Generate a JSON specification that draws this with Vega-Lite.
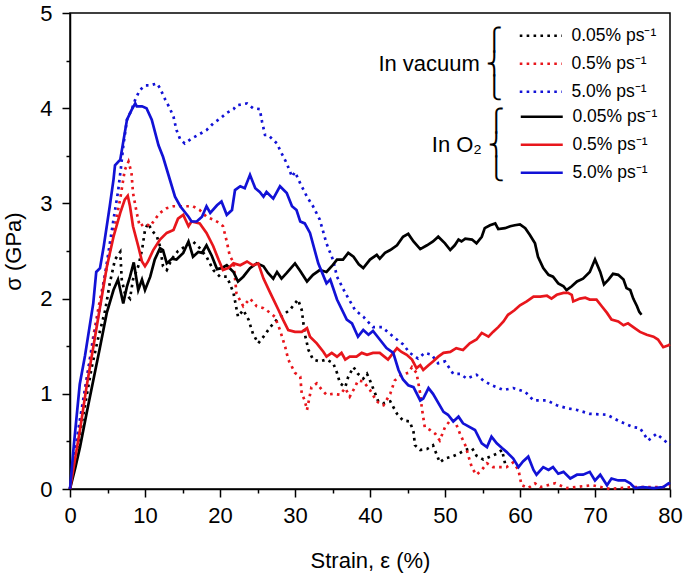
{
  "$schema": "https://vega.github.io/schema/vega-lite/v6.json",
  "width": 600,
  "height": 476,
  "autosize": {"type": "none"},
  "padding": {"left": 70, "top": 13, "right": 15, "bottom": 86},
  "config": {
    "font": "Liberation Sans",
    "view": {"stroke": "#000000", "strokeWidth": 1.5},
    "axis": {"grid": false, "domainColor": "#000000", "domainWidth": 1.5, "tickColor": "#000000", "tickWidth": 1.5, "labelColor": "#000000", "titleColor": "#000000", "labelFontSize": 22, "titleFontSize": 22, "titleFontWeight": "normal"}
  },
  "data": {"values": [
    {"series":"vacuum 0.05","strain":0,"stress":0},{"series":"vacuum 0.05","strain":0.9,"stress":0.4},{"series":"vacuum 0.05","strain":1.8,"stress":0.79},{"series":"vacuum 0.05","strain":2.9,"stress":1.28},{"series":"vacuum 0.05","strain":3.8,"stress":1.6},{"series":"vacuum 0.05","strain":4.7,"stress":1.88},{"series":"vacuum 0.05","strain":5.3,"stress":2.16},{"series":"vacuum 0.05","strain":6,"stress":2.41},{"series":"vacuum 0.05","strain":6.7,"stress":2.49},{"series":"vacuum 0.05","strain":6.9,"stress":2.2},{"series":"vacuum 0.05","strain":7.3,"stress":2.06},{"series":"vacuum 0.05","strain":8,"stress":2.0},{"series":"vacuum 0.05","strain":8.4,"stress":2.2},{"series":"vacuum 0.05","strain":9.1,"stress":2.34},{"series":"vacuum 0.05","strain":9.6,"stress":2.51},{"series":"vacuum 0.05","strain":10,"stress":2.72},{"series":"vacuum 0.05","strain":10.4,"stress":2.79},{"series":"vacuum 0.05","strain":10.9,"stress":2.72},{"series":"vacuum 0.05","strain":11.6,"stress":2.65},{"series":"vacuum 0.05","strain":12,"stress":2.55},{"series":"vacuum 0.05","strain":12.4,"stress":2.34},{"series":"vacuum 0.05","strain":12.9,"stress":2.3},{"series":"vacuum 0.05","strain":13.6,"stress":2.42},{"series":"vacuum 0.05","strain":14.4,"stress":2.5},{"series":"vacuum 0.05","strain":15.6,"stress":2.56},{"series":"vacuum 0.05","strain":16.4,"stress":2.6},{"series":"vacuum 0.05","strain":17.3,"stress":2.53},{"series":"vacuum 0.05","strain":18.2,"stress":2.44},{"series":"vacuum 0.05","strain":19.1,"stress":2.3},{"series":"vacuum 0.05","strain":20,"stress":2.23},{"series":"vacuum 0.05","strain":20.9,"stress":2.23},{"series":"vacuum 0.05","strain":21.3,"stress":2.16},{"series":"vacuum 0.05","strain":21.8,"stress":2.06},{"series":"vacuum 0.05","strain":22.4,"stress":1.81},{"series":"vacuum 0.05","strain":23.1,"stress":1.88},{"series":"vacuum 0.05","strain":23.8,"stress":1.78},{"series":"vacuum 0.05","strain":24.4,"stress":1.63},{"series":"vacuum 0.05","strain":25.1,"stress":1.53},{"series":"vacuum 0.05","strain":25.8,"stress":1.6},{"series":"vacuum 0.05","strain":26.7,"stress":1.7},{"series":"vacuum 0.05","strain":27.6,"stress":1.78},{"series":"vacuum 0.05","strain":28.4,"stress":1.83},{"series":"vacuum 0.05","strain":29.3,"stress":1.88},{"series":"vacuum 0.05","strain":30.4,"stress":1.99},{"series":"vacuum 0.05","strain":30.9,"stress":1.88},{"series":"vacuum 0.05","strain":31.3,"stress":1.63},{"series":"vacuum 0.05","strain":31.8,"stress":1.46},{"series":"vacuum 0.05","strain":32.4,"stress":1.36},{"series":"vacuum 0.05","strain":33.3,"stress":1.34},{"series":"vacuum 0.05","strain":34.2,"stress":1.36},{"series":"vacuum 0.05","strain":35.1,"stress":1.32},{"series":"vacuum 0.05","strain":35.6,"stress":1.22},{"series":"vacuum 0.05","strain":36,"stress":1.11},{"series":"vacuum 0.05","strain":36.7,"stress":1.07},{"series":"vacuum 0.05","strain":37.1,"stress":1.18},{"series":"vacuum 0.05","strain":37.8,"stress":1.28},{"series":"vacuum 0.05","strain":38.4,"stress":1.21},{"series":"vacuum 0.05","strain":39.1,"stress":1.16},{"series":"vacuum 0.05","strain":39.6,"stress":1.21},{"series":"vacuum 0.05","strain":40,"stress":1.14},{"series":"vacuum 0.05","strain":40.7,"stress":1.0},{"series":"vacuum 0.05","strain":41.1,"stress":0.92},{"series":"vacuum 0.05","strain":41.8,"stress":0.9},{"series":"vacuum 0.05","strain":42.7,"stress":0.92},{"series":"vacuum 0.05","strain":43.6,"stress":0.79},{"series":"vacuum 0.05","strain":44.4,"stress":0.72},{"series":"vacuum 0.05","strain":45.3,"stress":0.71},{"series":"vacuum 0.05","strain":45.8,"stress":0.6},{"series":"vacuum 0.05","strain":46,"stress":0.46},{"series":"vacuum 0.05","strain":46.7,"stress":0.41},{"series":"vacuum 0.05","strain":47.6,"stress":0.42},{"series":"vacuum 0.05","strain":48.4,"stress":0.46},{"series":"vacuum 0.05","strain":48.9,"stress":0.36},{"series":"vacuum 0.05","strain":49.3,"stress":0.28},{"series":"vacuum 0.05","strain":50,"stress":0.32},{"series":"vacuum 0.05","strain":50.9,"stress":0.34},{"series":"vacuum 0.05","strain":51.8,"stress":0.37},{"series":"vacuum 0.05","strain":52.7,"stress":0.41},{"series":"vacuum 0.05","strain":53.6,"stress":0.43},{"series":"vacuum 0.05","strain":54.2,"stress":0.35},{"series":"vacuum 0.05","strain":55.1,"stress":0.31},{"series":"vacuum 0.05","strain":56,"stress":0.34},{"series":"vacuum 0.05","strain":56.9,"stress":0.37},{"series":"vacuum 0.05","strain":57.6,"stress":0.41},{"series":"vacuum 0.05","strain":58,"stress":0.27},
    {"series":"vacuum 0.5","strain":0,"stress":0},{"series":"vacuum 0.5","strain":1.3,"stress":0.69},{"series":"vacuum 0.5","strain":2.2,"stress":1.14},{"series":"vacuum 0.5","strain":3.1,"stress":1.6},{"series":"vacuum 0.5","strain":4,"stress":1.99},{"series":"vacuum 0.5","strain":4.9,"stress":2.33},{"series":"vacuum 0.5","strain":5.8,"stress":2.69},{"series":"vacuum 0.5","strain":6.7,"stress":3.05},{"series":"vacuum 0.5","strain":7.3,"stress":3.35},{"series":"vacuum 0.5","strain":7.8,"stress":3.44},{"series":"vacuum 0.5","strain":8.2,"stress":3.32},{"series":"vacuum 0.5","strain":8.4,"stress":3.11},{"series":"vacuum 0.5","strain":8.9,"stress":2.9},{"series":"vacuum 0.5","strain":9.3,"stress":2.76},{"series":"vacuum 0.5","strain":10,"stress":2.79},{"series":"vacuum 0.5","strain":10.7,"stress":2.76},{"series":"vacuum 0.5","strain":11.3,"stress":2.83},{"series":"vacuum 0.5","strain":12,"stress":2.9},{"series":"vacuum 0.5","strain":12.9,"stress":2.95},{"series":"vacuum 0.5","strain":13.8,"stress":2.97},{"series":"vacuum 0.5","strain":15.1,"stress":2.97},{"series":"vacuum 0.5","strain":16.4,"stress":2.97},{"series":"vacuum 0.5","strain":17.3,"stress":2.93},{"series":"vacuum 0.5","strain":18.2,"stress":2.86},{"series":"vacuum 0.5","strain":19.1,"stress":2.83},{"series":"vacuum 0.5","strain":20,"stress":2.79},{"series":"vacuum 0.5","strain":20.4,"stress":2.76},{"series":"vacuum 0.5","strain":20.9,"stress":2.6},{"series":"vacuum 0.5","strain":21.3,"stress":2.45},{"series":"vacuum 0.5","strain":21.8,"stress":2.38},{"series":"vacuum 0.5","strain":22.2,"stress":2.05},{"series":"vacuum 0.5","strain":23.1,"stress":1.92},{"series":"vacuum 0.5","strain":24,"stress":2.0},{"series":"vacuum 0.5","strain":24.9,"stress":1.92},{"series":"vacuum 0.5","strain":25.8,"stress":1.9},{"series":"vacuum 0.5","strain":26.7,"stress":1.85},{"series":"vacuum 0.5","strain":27.3,"stress":1.81},{"series":"vacuum 0.5","strain":28,"stress":1.67},{"series":"vacuum 0.5","strain":28.7,"stress":1.49},{"series":"vacuum 0.5","strain":29.1,"stress":1.36},{"series":"vacuum 0.5","strain":30,"stress":1.22},{"series":"vacuum 0.5","strain":30.7,"stress":1.18},{"series":"vacuum 0.5","strain":30.9,"stress":1.0},{"series":"vacuum 0.5","strain":31.3,"stress":0.93},{"series":"vacuum 0.5","strain":31.6,"stress":0.83},{"series":"vacuum 0.5","strain":32.2,"stress":1.07},{"series":"vacuum 0.5","strain":32.9,"stress":1.11},{"series":"vacuum 0.5","strain":33.6,"stress":1.04},{"series":"vacuum 0.5","strain":34.2,"stress":0.99},{"series":"vacuum 0.5","strain":35.1,"stress":1.0},{"series":"vacuum 0.5","strain":36,"stress":0.99},{"series":"vacuum 0.5","strain":36.7,"stress":1.06},{"series":"vacuum 0.5","strain":37.3,"stress":0.97},{"series":"vacuum 0.5","strain":38,"stress":1.07},{"series":"vacuum 0.5","strain":38.4,"stress":1.14},{"series":"vacuum 0.5","strain":39.1,"stress":1.13},{"series":"vacuum 0.5","strain":40,"stress":1.04},{"series":"vacuum 0.5","strain":40.9,"stress":0.92},{"series":"vacuum 0.5","strain":41.8,"stress":0.88},{"series":"vacuum 0.5","strain":42.7,"stress":1.0},{"series":"vacuum 0.5","strain":43.3,"stress":1.14},{"series":"vacuum 0.5","strain":44.2,"stress":1.2},{"series":"vacuum 0.5","strain":45.1,"stress":1.22},{"series":"vacuum 0.5","strain":45.6,"stress":1.28},{"series":"vacuum 0.5","strain":46.2,"stress":1.22},{"series":"vacuum 0.5","strain":46.7,"stress":1.0},{"series":"vacuum 0.5","strain":46.9,"stress":0.86},{"series":"vacuum 0.5","strain":47.3,"stress":0.65},{"series":"vacuum 0.5","strain":48,"stress":0.62},{"series":"vacuum 0.5","strain":48.7,"stress":0.58},{"series":"vacuum 0.5","strain":49.3,"stress":0.51},{"series":"vacuum 0.5","strain":50,"stress":0.65},{"series":"vacuum 0.5","strain":50.7,"stress":0.72},{"series":"vacuum 0.5","strain":51.3,"stress":0.72},{"series":"vacuum 0.5","strain":52,"stress":0.58},{"series":"vacuum 0.5","strain":52.7,"stress":0.46},{"series":"vacuum 0.5","strain":53.6,"stress":0.22},{"series":"vacuum 0.5","strain":54.2,"stress":0.15},{"series":"vacuum 0.5","strain":54.9,"stress":0.2},{"series":"vacuum 0.5","strain":55.6,"stress":0.27},{"series":"vacuum 0.5","strain":56.4,"stress":0.23},{"series":"vacuum 0.5","strain":57.3,"stress":0.23},{"series":"vacuum 0.5","strain":58.2,"stress":0.23},{"series":"vacuum 0.5","strain":59.1,"stress":0.28},{"series":"vacuum 0.5","strain":59.8,"stress":0.2},{"series":"vacuum 0.5","strain":60.2,"stress":0.04},{"series":"vacuum 0.5","strain":61.1,"stress":0.01},{"series":"vacuum 0.5","strain":62,"stress":0.06},{"series":"vacuum 0.5","strain":62.7,"stress":0.02},{"series":"vacuum 0.5","strain":64.7,"stress":0.06},{"series":"vacuum 0.5","strain":66.2,"stress":0.01},{"series":"vacuum 0.5","strain":69.6,"stress":0.04},{"series":"vacuum 0.5","strain":72,"stress":0.0},{"series":"vacuum 0.5","strain":75,"stress":0.02},{"series":"vacuum 0.5","strain":79.1,"stress":0.02},{"series":"vacuum 0.5","strain":80,"stress":0.04},
    {"series":"vacuum 5.0","strain":0,"stress":0},{"series":"vacuum 5.0","strain":0.6,"stress":0.35},{"series":"vacuum 5.0","strain":1.3,"stress":0.72},{"series":"vacuum 5.0","strain":2.2,"stress":1.14},{"series":"vacuum 5.0","strain":3.1,"stress":1.56},{"series":"vacuum 5.0","strain":4,"stress":1.91},{"series":"vacuum 5.0","strain":4.9,"stress":2.37},{"series":"vacuum 5.0","strain":5.8,"stress":2.83},{"series":"vacuum 5.0","strain":6.4,"stress":3.12},{"series":"vacuum 5.0","strain":6.8,"stress":3.38},{"series":"vacuum 5.0","strain":7.1,"stress":3.6},{"series":"vacuum 5.0","strain":7.6,"stress":3.88},{"series":"vacuum 5.0","strain":8.2,"stress":3.98},{"series":"vacuum 5.0","strain":8.7,"stress":4.09},{"series":"vacuum 5.0","strain":9.3,"stress":4.19},{"series":"vacuum 5.0","strain":10,"stress":4.24},{"series":"vacuum 5.0","strain":10.7,"stress":4.24},{"series":"vacuum 5.0","strain":11.6,"stress":4.26},{"series":"vacuum 5.0","strain":12,"stress":4.21},{"series":"vacuum 5.0","strain":12.7,"stress":4.09},{"series":"vacuum 5.0","strain":13.3,"stress":4.0},{"series":"vacuum 5.0","strain":13.8,"stress":3.91},{"series":"vacuum 5.0","strain":14.2,"stress":3.77},{"series":"vacuum 5.0","strain":14.7,"stress":3.67},{"series":"vacuum 5.0","strain":15.3,"stress":3.63},{"series":"vacuum 5.0","strain":16.2,"stress":3.68},{"series":"vacuum 5.0","strain":17.1,"stress":3.72},{"series":"vacuum 5.0","strain":18.2,"stress":3.77},{"series":"vacuum 5.0","strain":19.1,"stress":3.84},{"series":"vacuum 5.0","strain":20,"stress":3.89},{"series":"vacuum 5.0","strain":20.9,"stress":3.95},{"series":"vacuum 5.0","strain":21.8,"stress":3.99},{"series":"vacuum 5.0","strain":22.2,"stress":4.03},{"series":"vacuum 5.0","strain":23.6,"stress":4.05},{"series":"vacuum 5.0","strain":24.4,"stress":4.0},{"series":"vacuum 5.0","strain":25.3,"stress":3.99},{"series":"vacuum 5.0","strain":25.6,"stress":3.86},{"series":"vacuum 5.0","strain":26,"stress":3.72},{"series":"vacuum 5.0","strain":26.4,"stress":3.72},{"series":"vacuum 5.0","strain":27.6,"stress":3.63},{"series":"vacuum 5.0","strain":28,"stress":3.56},{"series":"vacuum 5.0","strain":28.9,"stress":3.42},{"series":"vacuum 5.0","strain":29.6,"stress":3.28},{"series":"vacuum 5.0","strain":30,"stress":3.33},{"series":"vacuum 5.0","strain":30.7,"stress":3.21},{"series":"vacuum 5.0","strain":31.6,"stress":3.07},{"series":"vacuum 5.0","strain":32.4,"stress":2.97},{"series":"vacuum 5.0","strain":33.3,"stress":2.83},{"series":"vacuum 5.0","strain":34.2,"stress":2.58},{"series":"vacuum 5.0","strain":35.1,"stress":2.4},{"series":"vacuum 5.0","strain":35.6,"stress":2.23},{"series":"vacuum 5.0","strain":36.7,"stress":2.06},{"series":"vacuum 5.0","strain":38,"stress":1.88},{"series":"vacuum 5.0","strain":39.1,"stress":1.81},{"series":"vacuum 5.0","strain":40.4,"stress":1.7},{"series":"vacuum 5.0","strain":41.6,"stress":1.7},{"series":"vacuum 5.0","strain":43.1,"stress":1.6},{"series":"vacuum 5.0","strain":44.4,"stress":1.52},{"series":"vacuum 5.0","strain":45.3,"stress":1.43},{"series":"vacuum 5.0","strain":46.4,"stress":1.37},{"series":"vacuum 5.0","strain":47.3,"stress":1.43},{"series":"vacuum 5.0","strain":48.2,"stress":1.41},{"series":"vacuum 5.0","strain":49.1,"stress":1.32},{"series":"vacuum 5.0","strain":50,"stress":1.34},{"series":"vacuum 5.0","strain":51.1,"stress":1.21},{"series":"vacuum 5.0","strain":52,"stress":1.21},{"series":"vacuum 5.0","strain":52.9,"stress":1.16},{"series":"vacuum 5.0","strain":54.2,"stress":1.2},{"series":"vacuum 5.0","strain":55.1,"stress":1.14},{"series":"vacuum 5.0","strain":56.2,"stress":1.09},{"series":"vacuum 5.0","strain":57.8,"stress":1.04},{"series":"vacuum 5.0","strain":59.1,"stress":1.06},{"series":"vacuum 5.0","strain":60.7,"stress":1.02},{"series":"vacuum 5.0","strain":61.8,"stress":0.93},{"series":"vacuum 5.0","strain":63.6,"stress":0.93},{"series":"vacuum 5.0","strain":64.9,"stress":0.88},{"series":"vacuum 5.0","strain":66.2,"stress":0.85},{"series":"vacuum 5.0","strain":67.6,"stress":0.83},{"series":"vacuum 5.0","strain":69.3,"stress":0.79},{"series":"vacuum 5.0","strain":71.6,"stress":0.78},{"series":"vacuum 5.0","strain":73.3,"stress":0.71},{"series":"vacuum 5.0","strain":75.1,"stress":0.65},{"series":"vacuum 5.0","strain":76,"stress":0.64},{"series":"vacuum 5.0","strain":77.1,"stress":0.51},{"series":"vacuum 5.0","strain":78.2,"stress":0.58},{"series":"vacuum 5.0","strain":80,"stress":0.46},
    {"series":"O2 0.05","strain":0,"stress":0},{"series":"O2 0.05","strain":0.7,"stress":0.22},{"series":"O2 0.05","strain":1.33,"stress":0.44},{"series":"O2 0.05","strain":2.2,"stress":0.79},{"series":"O2 0.05","strain":3.1,"stress":1.14},{"series":"O2 0.05","strain":4,"stress":1.49},{"series":"O2 0.05","strain":4.9,"stress":1.85},{"series":"O2 0.05","strain":5.8,"stress":2.09},{"series":"O2 0.05","strain":6.4,"stress":2.2},{"series":"O2 0.05","strain":7.1,"stress":1.95},{"series":"O2 0.05","strain":7.6,"stress":2.13},{"series":"O2 0.05","strain":8,"stress":2.23},{"series":"O2 0.05","strain":8.5,"stress":2.38},{"series":"O2 0.05","strain":9.1,"stress":2.09},{"series":"O2 0.05","strain":9.6,"stress":2.2},{"series":"O2 0.05","strain":10,"stress":2.09},{"series":"O2 0.05","strain":10.7,"stress":2.23},{"series":"O2 0.05","strain":11.3,"stress":2.41},{"series":"O2 0.05","strain":12,"stress":2.53},{"series":"O2 0.05","strain":12.4,"stress":2.51},{"series":"O2 0.05","strain":12.9,"stress":2.37},{"series":"O2 0.05","strain":13.6,"stress":2.42},{"series":"O2 0.05","strain":14.2,"stress":2.41},{"series":"O2 0.05","strain":15.1,"stress":2.48},{"series":"O2 0.05","strain":15.8,"stress":2.6},{"series":"O2 0.05","strain":16.4,"stress":2.44},{"series":"O2 0.05","strain":17.1,"stress":2.49},{"series":"O2 0.05","strain":17.6,"stress":2.48},{"series":"O2 0.05","strain":18.2,"stress":2.56},{"series":"O2 0.05","strain":18.9,"stress":2.45},{"series":"O2 0.05","strain":19.6,"stress":2.31},{"series":"O2 0.05","strain":20.2,"stress":2.32},{"series":"O2 0.05","strain":20.9,"stress":2.35},{"series":"O2 0.05","strain":21.8,"stress":2.28},{"series":"O2 0.05","strain":22.4,"stress":2.18},{"series":"O2 0.05","strain":23.1,"stress":2.23},{"series":"O2 0.05","strain":24,"stress":2.32},{"series":"O2 0.05","strain":24.9,"stress":2.37},{"series":"O2 0.05","strain":25.8,"stress":2.34},{"series":"O2 0.05","strain":26.4,"stress":2.27},{"series":"O2 0.05","strain":27.1,"stress":2.21},{"series":"O2 0.05","strain":27.6,"stress":2.28},{"series":"O2 0.05","strain":28.2,"stress":2.21},{"series":"O2 0.05","strain":28.9,"stress":2.27},{"series":"O2 0.05","strain":30,"stress":2.37},{"series":"O2 0.05","strain":30.7,"stress":2.29},{"series":"O2 0.05","strain":31.6,"stress":2.18},{"series":"O2 0.05","strain":32.4,"stress":2.25},{"series":"O2 0.05","strain":33.3,"stress":2.3},{"series":"O2 0.05","strain":34.2,"stress":2.28},{"series":"O2 0.05","strain":34.9,"stress":2.34},{"series":"O2 0.05","strain":35.6,"stress":2.41},{"series":"O2 0.05","strain":36.4,"stress":2.41},{"series":"O2 0.05","strain":37.1,"stress":2.48},{"series":"O2 0.05","strain":37.8,"stress":2.44},{"series":"O2 0.05","strain":38.5,"stress":2.36},{"series":"O2 0.05","strain":39.1,"stress":2.32},{"series":"O2 0.05","strain":40,"stress":2.41},{"series":"O2 0.05","strain":40.9,"stress":2.46},{"series":"O2 0.05","strain":41.3,"stress":2.42},{"series":"O2 0.05","strain":42,"stress":2.48},{"series":"O2 0.05","strain":42.7,"stress":2.51},{"series":"O2 0.05","strain":43.6,"stress":2.56},{"series":"O2 0.05","strain":44.4,"stress":2.65},{"series":"O2 0.05","strain":45.1,"stress":2.68},{"series":"O2 0.05","strain":45.8,"stress":2.6},{"series":"O2 0.05","strain":46.7,"stress":2.52},{"series":"O2 0.05","strain":47.6,"stress":2.56},{"series":"O2 0.05","strain":48.4,"stress":2.6},{"series":"O2 0.05","strain":49.1,"stress":2.65},{"series":"O2 0.05","strain":50,"stress":2.58},{"series":"O2 0.05","strain":50.7,"stress":2.51},{"series":"O2 0.05","strain":51.3,"stress":2.56},{"series":"O2 0.05","strain":51.8,"stress":2.62},{"series":"O2 0.05","strain":52.2,"stress":2.6},{"series":"O2 0.05","strain":52.7,"stress":2.63},{"series":"O2 0.05","strain":53.6,"stress":2.62},{"series":"O2 0.05","strain":54.2,"stress":2.58},{"series":"O2 0.05","strain":54.9,"stress":2.65},{"series":"O2 0.05","strain":55.3,"stress":2.74},{"series":"O2 0.05","strain":56,"stress":2.77},{"series":"O2 0.05","strain":56.7,"stress":2.79},{"series":"O2 0.05","strain":57.1,"stress":2.73},{"series":"O2 0.05","strain":58,"stress":2.74},{"series":"O2 0.05","strain":58.7,"stress":2.76},{"series":"O2 0.05","strain":59.3,"stress":2.77},{"series":"O2 0.05","strain":60,"stress":2.78},{"series":"O2 0.05","strain":60.7,"stress":2.74},{"series":"O2 0.05","strain":61.3,"stress":2.67},{"series":"O2 0.05","strain":62,"stress":2.58},{"series":"O2 0.05","strain":62.4,"stress":2.44},{"series":"O2 0.05","strain":63.1,"stress":2.32},{"series":"O2 0.05","strain":63.8,"stress":2.25},{"series":"O2 0.05","strain":64.4,"stress":2.23},{"series":"O2 0.05","strain":65.1,"stress":2.16},{"series":"O2 0.05","strain":65.8,"stress":2.13},{"series":"O2 0.05","strain":66.2,"stress":2.09},{"series":"O2 0.05","strain":66.9,"stress":2.13},{"series":"O2 0.05","strain":67.6,"stress":2.18},{"series":"O2 0.05","strain":68.4,"stress":2.21},{"series":"O2 0.05","strain":69.3,"stress":2.28},{"series":"O2 0.05","strain":70,"stress":2.41},{"series":"O2 0.05","strain":70.7,"stress":2.28},{"series":"O2 0.05","strain":71.2,"stress":2.15},{"series":"O2 0.05","strain":71.8,"stress":2.2},{"series":"O2 0.05","strain":72.4,"stress":2.26},{"series":"O2 0.05","strain":73.1,"stress":2.25},{"series":"O2 0.05","strain":73.8,"stress":2.2},{"series":"O2 0.05","strain":74.2,"stress":2.11},{"series":"O2 0.05","strain":74.7,"stress":2.09},{"series":"O2 0.05","strain":75.1,"stress":2.0},{"series":"O2 0.05","strain":75.6,"stress":1.92},{"series":"O2 0.05","strain":75.9,"stress":1.86},{"series":"O2 0.05","strain":76.2,"stress":1.83},
    {"series":"O2 0.5","strain":0,"stress":0},{"series":"O2 0.5","strain":0.6,"stress":0.28},{"series":"O2 0.5","strain":1.33,"stress":0.62},{"series":"O2 0.5","strain":2.2,"stress":1.07},{"series":"O2 0.5","strain":3.1,"stress":1.49},{"series":"O2 0.5","strain":4,"stress":1.91},{"series":"O2 0.5","strain":4.9,"stress":2.33},{"series":"O2 0.5","strain":5.8,"stress":2.65},{"series":"O2 0.5","strain":6.7,"stress":2.9},{"series":"O2 0.5","strain":7.3,"stress":3.04},{"series":"O2 0.5","strain":7.7,"stress":3.08},{"series":"O2 0.5","strain":8,"stress":2.97},{"series":"O2 0.5","strain":8.4,"stress":2.76},{"series":"O2 0.5","strain":9.1,"stress":2.55},{"series":"O2 0.5","strain":9.6,"stress":2.39},{"series":"O2 0.5","strain":10,"stress":2.34},{"series":"O2 0.5","strain":10.4,"stress":2.39},{"series":"O2 0.5","strain":11.1,"stress":2.51},{"series":"O2 0.5","strain":12,"stress":2.62},{"series":"O2 0.5","strain":12.9,"stress":2.69},{"series":"O2 0.5","strain":13.8,"stress":2.72},{"series":"O2 0.5","strain":14.4,"stress":2.84},{"series":"O2 0.5","strain":15.1,"stress":2.88},{"series":"O2 0.5","strain":15.8,"stress":2.76},{"series":"O2 0.5","strain":16.2,"stress":2.81},{"series":"O2 0.5","strain":17.3,"stress":2.79},{"series":"O2 0.5","strain":18.2,"stress":2.69},{"series":"O2 0.5","strain":19.1,"stress":2.55},{"series":"O2 0.5","strain":19.8,"stress":2.41},{"series":"O2 0.5","strain":20.4,"stress":2.3},{"series":"O2 0.5","strain":21.1,"stress":2.32},{"series":"O2 0.5","strain":21.8,"stress":2.37},{"series":"O2 0.5","strain":22.7,"stress":2.35},{"series":"O2 0.5","strain":23.6,"stress":2.39},{"series":"O2 0.5","strain":24.4,"stress":2.35},{"series":"O2 0.5","strain":25.1,"stress":2.37},{"series":"O2 0.5","strain":25.8,"stress":2.21},{"series":"O2 0.5","strain":26.7,"stress":2.06},{"series":"O2 0.5","strain":27.8,"stress":1.88},{"series":"O2 0.5","strain":28.4,"stress":1.78},{"series":"O2 0.5","strain":29.1,"stress":1.67},{"series":"O2 0.5","strain":30,"stress":1.65},{"series":"O2 0.5","strain":30.9,"stress":1.65},{"series":"O2 0.5","strain":31.6,"stress":1.69},{"series":"O2 0.5","strain":32,"stress":1.6},{"series":"O2 0.5","strain":32.9,"stress":1.53},{"series":"O2 0.5","strain":33.8,"stress":1.44},{"series":"O2 0.5","strain":34.2,"stress":1.39},{"series":"O2 0.5","strain":34.9,"stress":1.43},{"series":"O2 0.5","strain":35.6,"stress":1.39},{"series":"O2 0.5","strain":36.2,"stress":1.43},{"series":"O2 0.5","strain":36.7,"stress":1.36},{"series":"O2 0.5","strain":37.3,"stress":1.39},{"series":"O2 0.5","strain":38.2,"stress":1.39},{"series":"O2 0.5","strain":38.9,"stress":1.43},{"series":"O2 0.5","strain":39.6,"stress":1.41},{"series":"O2 0.5","strain":40.4,"stress":1.43},{"series":"O2 0.5","strain":41.3,"stress":1.43},{"series":"O2 0.5","strain":42.4,"stress":1.36},{"series":"O2 0.5","strain":43.1,"stress":1.43},{"series":"O2 0.5","strain":43.6,"stress":1.48},{"series":"O2 0.5","strain":44.2,"stress":1.44},{"series":"O2 0.5","strain":44.9,"stress":1.41},{"series":"O2 0.5","strain":45.6,"stress":1.36},{"series":"O2 0.5","strain":46.2,"stress":1.27},{"series":"O2 0.5","strain":46.7,"stress":1.3},{"series":"O2 0.5","strain":47.1,"stress":1.25},{"series":"O2 0.5","strain":47.8,"stress":1.3},{"series":"O2 0.5","strain":48.4,"stress":1.34},{"series":"O2 0.5","strain":49.1,"stress":1.39},{"series":"O2 0.5","strain":49.8,"stress":1.43},{"series":"O2 0.5","strain":50.7,"stress":1.44},{"series":"O2 0.5","strain":51.5,"stress":1.48},{"series":"O2 0.5","strain":52.4,"stress":1.46},{"series":"O2 0.5","strain":53.3,"stress":1.53},{"series":"O2 0.5","strain":54.2,"stress":1.57},{"series":"O2 0.5","strain":54.9,"stress":1.64},{"series":"O2 0.5","strain":55.8,"stress":1.6},{"series":"O2 0.5","strain":56.4,"stress":1.65},{"series":"O2 0.5","strain":57.1,"stress":1.7},{"series":"O2 0.5","strain":57.8,"stress":1.76},{"series":"O2 0.5","strain":58.4,"stress":1.83},{"series":"O2 0.5","strain":59.3,"stress":1.88},{"series":"O2 0.5","strain":60,"stress":1.93},{"series":"O2 0.5","strain":60.9,"stress":1.97},{"series":"O2 0.5","strain":61.8,"stress":2.02},{"series":"O2 0.5","strain":62.7,"stress":2.02},{"series":"O2 0.5","strain":63.6,"stress":2.03},{"series":"O2 0.5","strain":64.2,"stress":2.0},{"series":"O2 0.5","strain":64.9,"stress":2.04},{"series":"O2 0.5","strain":65.8,"stress":2.06},{"series":"O2 0.5","strain":66.4,"stress":2.06},{"series":"O2 0.5","strain":66.9,"stress":2.04},{"series":"O2 0.5","strain":67.1,"stress":1.97},{"series":"O2 0.5","strain":68,"stress":2.0},{"series":"O2 0.5","strain":68.7,"stress":2.01},{"series":"O2 0.5","strain":69.3,"stress":1.99},{"series":"O2 0.5","strain":70.2,"stress":1.99},{"series":"O2 0.5","strain":70.9,"stress":1.92},{"series":"O2 0.5","strain":71.6,"stress":1.85},{"series":"O2 0.5","strain":72.2,"stress":1.78},{"series":"O2 0.5","strain":73.1,"stress":1.76},{"series":"O2 0.5","strain":73.8,"stress":1.72},{"series":"O2 0.5","strain":74.4,"stress":1.74},{"series":"O2 0.5","strain":75.1,"stress":1.7},{"series":"O2 0.5","strain":76,"stress":1.65},{"series":"O2 0.5","strain":76.9,"stress":1.62},{"series":"O2 0.5","strain":77.8,"stress":1.6},{"series":"O2 0.5","strain":78.4,"stress":1.57},{"series":"O2 0.5","strain":79.1,"stress":1.49},{"series":"O2 0.5","strain":79.8,"stress":1.51},{"series":"O2 0.5","strain":80,"stress":1.52},
    {"series":"O2 5.0","strain":0,"stress":0},{"series":"O2 5.0","strain":0.5,"stress":0.45},{"series":"O2 5.0","strain":1.3,"stress":1.1},{"series":"O2 5.0","strain":2.0,"stress":1.4},{"series":"O2 5.0","strain":3.1,"stress":1.95},{"series":"O2 5.0","strain":3.5,"stress":2.28},{"series":"O2 5.0","strain":4.0,"stress":2.32},{"series":"O2 5.0","strain":4.5,"stress":2.55},{"series":"O2 5.0","strain":5.3,"stress":2.97},{"series":"O2 5.0","strain":5.8,"stress":3.25},{"series":"O2 5.0","strain":6.0,"stress":3.4},{"series":"O2 5.0","strain":6.7,"stress":3.46},{"series":"O2 5.0","strain":7.6,"stress":3.88},{"series":"O2 5.0","strain":8.2,"stress":3.98},{"series":"O2 5.0","strain":8.7,"stress":4.05},{"series":"O2 5.0","strain":8.9,"stress":4.02},{"series":"O2 5.0","strain":9.6,"stress":4.02},{"series":"O2 5.0","strain":10.2,"stress":4.0},{"series":"O2 5.0","strain":10.9,"stress":3.88},{"series":"O2 5.0","strain":11.8,"stress":3.61},{"series":"O2 5.0","strain":12.4,"stress":3.49},{"series":"O2 5.0","strain":13.2,"stress":3.28},{"series":"O2 5.0","strain":14.0,"stress":3.07},{"series":"O2 5.0","strain":14.7,"stress":2.97},{"series":"O2 5.0","strain":15.8,"stress":2.86},{"series":"O2 5.0","strain":16.2,"stress":2.81},{"series":"O2 5.0","strain":16.9,"stress":2.81},{"series":"O2 5.0","strain":17.6,"stress":2.86},{"series":"O2 5.0","strain":18.2,"stress":2.97},{"series":"O2 5.0","strain":18.7,"stress":2.9},{"series":"O2 5.0","strain":19.6,"stress":2.98},{"series":"O2 5.0","strain":20.2,"stress":3.02},{"series":"O2 5.0","strain":20.9,"stress":2.88},{"series":"O2 5.0","strain":21.6,"stress":2.93},{"series":"O2 5.0","strain":22,"stress":3.14},{"series":"O2 5.0","strain":22.7,"stress":3.18},{"series":"O2 5.0","strain":23.3,"stress":3.16},{"series":"O2 5.0","strain":24.0,"stress":3.3},{"series":"O2 5.0","strain":24.7,"stress":3.16},{"series":"O2 5.0","strain":25.3,"stress":3.12},{"series":"O2 5.0","strain":25.8,"stress":3.07},{"series":"O2 5.0","strain":26.2,"stress":3.12},{"series":"O2 5.0","strain":27.1,"stress":3.05},{"series":"O2 5.0","strain":28,"stress":3.18},{"series":"O2 5.0","strain":28.9,"stress":3.11},{"series":"O2 5.0","strain":29.6,"stress":2.97},{"series":"O2 5.0","strain":30.2,"stress":2.93},{"series":"O2 5.0","strain":30.7,"stress":2.81},{"series":"O2 5.0","strain":31.3,"stress":2.79},{"series":"O2 5.0","strain":32,"stress":2.69},{"series":"O2 5.0","strain":33.1,"stress":2.37},{"series":"O2 5.0","strain":34.2,"stress":2.16},{"series":"O2 5.0","strain":34.7,"stress":2.2},{"series":"O2 5.0","strain":35.6,"stress":1.99},{"series":"O2 5.0","strain":36.9,"stress":1.78},{"series":"O2 5.0","strain":37.6,"stress":1.74},{"series":"O2 5.0","strain":38.4,"stress":1.6},{"series":"O2 5.0","strain":39.1,"stress":1.67},{"series":"O2 5.0","strain":39.8,"stress":1.62},{"series":"O2 5.0","strain":40.4,"stress":1.66},{"series":"O2 5.0","strain":41.3,"stress":1.57},{"series":"O2 5.0","strain":42.2,"stress":1.48},{"series":"O2 5.0","strain":43.1,"stress":1.43},{"series":"O2 5.0","strain":43.8,"stress":1.25},{"series":"O2 5.0","strain":44.4,"stress":1.15},{"series":"O2 5.0","strain":45.1,"stress":1.09},{"series":"O2 5.0","strain":45.8,"stress":1.07},{"series":"O2 5.0","strain":46.7,"stress":0.93},{"series":"O2 5.0","strain":47.1,"stress":0.95},{"series":"O2 5.0","strain":47.8,"stress":1.06},{"series":"O2 5.0","strain":48.4,"stress":1.0},{"series":"O2 5.0","strain":49.8,"stress":0.81},{"series":"O2 5.0","strain":50.4,"stress":0.78},{"series":"O2 5.0","strain":51.1,"stress":0.71},{"series":"O2 5.0","strain":51.8,"stress":0.76},{"series":"O2 5.0","strain":52.4,"stress":0.69},{"series":"O2 5.0","strain":54,"stress":0.62},{"series":"O2 5.0","strain":54.9,"stress":0.48},{"series":"O2 5.0","strain":55.6,"stress":0.44},{"series":"O2 5.0","strain":56.2,"stress":0.55},{"series":"O2 5.0","strain":56.9,"stress":0.48},{"series":"O2 5.0","strain":57.6,"stress":0.43},{"series":"O2 5.0","strain":58.2,"stress":0.39},{"series":"O2 5.0","strain":59.1,"stress":0.32},{"series":"O2 5.0","strain":59.8,"stress":0.23},{"series":"O2 5.0","strain":60.4,"stress":0.29},{"series":"O2 5.0","strain":61.1,"stress":0.34},{"series":"O2 5.0","strain":61.8,"stress":0.2},{"series":"O2 5.0","strain":62.2,"stress":0.15},{"series":"O2 5.0","strain":63.1,"stress":0.23},{"series":"O2 5.0","strain":63.8,"stress":0.2},{"series":"O2 5.0","strain":64.4,"stress":0.23},{"series":"O2 5.0","strain":65.1,"stress":0.16},{"series":"O2 5.0","strain":65.8,"stress":0.18},{"series":"O2 5.0","strain":66.7,"stress":0.11},{"series":"O2 5.0","strain":67.6,"stress":0.15},{"series":"O2 5.0","strain":68.4,"stress":0.15},{"series":"O2 5.0","strain":69.3,"stress":0.18},{"series":"O2 5.0","strain":70,"stress":0.09},{"series":"O2 5.0","strain":70.7,"stress":0.15},{"series":"O2 5.0","strain":71.6,"stress":0.04},{"series":"O2 5.0","strain":72.2,"stress":0.11},{"series":"O2 5.0","strain":73.1,"stress":0.09},{"series":"O2 5.0","strain":74,"stress":0.09},{"series":"O2 5.0","strain":74.7,"stress":0.06},{"series":"O2 5.0","strain":75.3,"stress":0.01},{"series":"O2 5.0","strain":76.4,"stress":0.02},{"series":"O2 5.0","strain":77.8,"stress":0.01},{"series":"O2 5.0","strain":79.1,"stress":0.02},{"series":"O2 5.0","strain":79.8,"stress":0.06},{"series":"O2 5.0","strain":80,"stress":0.05}
  ]},
  "encoding": {
    "x": {"field": "strain", "type": "quantitative", "scale": {"domain": [0, 80], "nice": false},
      "axis": {"title": "Strain, ε (%)", "values": [0,5,10,15,20,25,30,35,40,45,50,55,60,65,70,75,80], "labelExpr": "datum.value % 10 === 0 ? datum.label : ''", "tickSize": {"condition": {"test": "datum.value % 10 === 0", "value": 8}, "value": 4}, "labelPadding": 8, "titlePadding": 24, "labelFlush": false}},
    "y": {"field": "stress", "type": "quantitative", "scale": {"domain": [0, 5], "nice": false},
      "axis": {"title": "σ (GPa)", "values": [0,0.5,1,1.5,2,2.5,3,3.5,4,4.5,5], "labelExpr": "datum.value % 1 === 0 ? format(datum.value, 'd') : ''", "tickSize": {"condition": {"test": "datum.value % 1 === 0", "value": 8}, "value": 4}, "labelPadding": 10, "titlePadding": 14, "labelFlush": false}}
  },
  "layer": [
    {
      "transform": [{"filter": {"field": "series", "oneOf": ["vacuum 0.05", "vacuum 0.5", "vacuum 5.0"]}}],
      "mark": {"type": "line", "strokeWidth": 2.7, "strokeDash": [2.6, 4.3]},
      "encoding": {
        "color": {"field": "series", "type": "nominal",
          "scale": {"domain": ["vacuum 0.05", "vacuum 0.5", "vacuum 5.0"], "range": ["#000000", "#e8161c", "#1212d6"]},
          "legend": {"title": ["⎧", "In vacuum ⎨", "⎩"], "orient": "none", "legendX": 308, "legendY": 14, "titleOrient": "left", "titleAlign": "right", "titleAnchor": "middle", "titleFontSize": 22, "titleFontWeight": "normal", "titleColor": "#000000", "titleLineHeight": 24, "titlePadding": -112, "titleLimit": 300, "symbolType": "M-1,0L7.4,0", "symbolSize": 100, "symbolStrokeWidth": 2.7, "symbolDash": [2.6, 4.3], "labelFontSize": 17.5, "labelColor": "#000000", "labelOffset": 38, "labelExpr": "replace(datum.label, 'vacuum ', '') + '% ps⁻¹'", "rowPadding": 9, "padding": 0}}
      }
    },
    {
      "transform": [{"filter": {"field": "series", "oneOf": ["O2 0.05", "O2 0.5", "O2 5.0"]}}],
      "mark": {"type": "line", "strokeWidth": 2.7},
      "encoding": {
        "stroke": {"field": "series", "type": "nominal",
          "scale": {"domain": ["O2 0.05", "O2 0.5", "O2 5.0"], "range": ["#000000", "#e8161c", "#1212d6"]},
          "legend": {"title": ["⎧", "In O₂ ⎨", "⎩"], "orient": "none", "legendX": 362, "legendY": 95, "titleOrient": "left", "titleAlign": "right", "titleAnchor": "middle", "titleFontSize": 22, "titleFontWeight": "normal", "titleColor": "#000000", "titleLineHeight": 24, "titlePadding": -62, "titleLimit": 300, "symbolType": "M-1,0L7.4,0", "symbolSize": 100, "symbolStrokeWidth": 2.7, "labelFontSize": 17.5, "labelColor": "#000000", "labelOffset": 38, "labelExpr": "replace(datum.label, 'O2 ', '') + '% ps⁻¹'", "rowPadding": 9, "padding": 0}}
      }
    }
  ]
}
